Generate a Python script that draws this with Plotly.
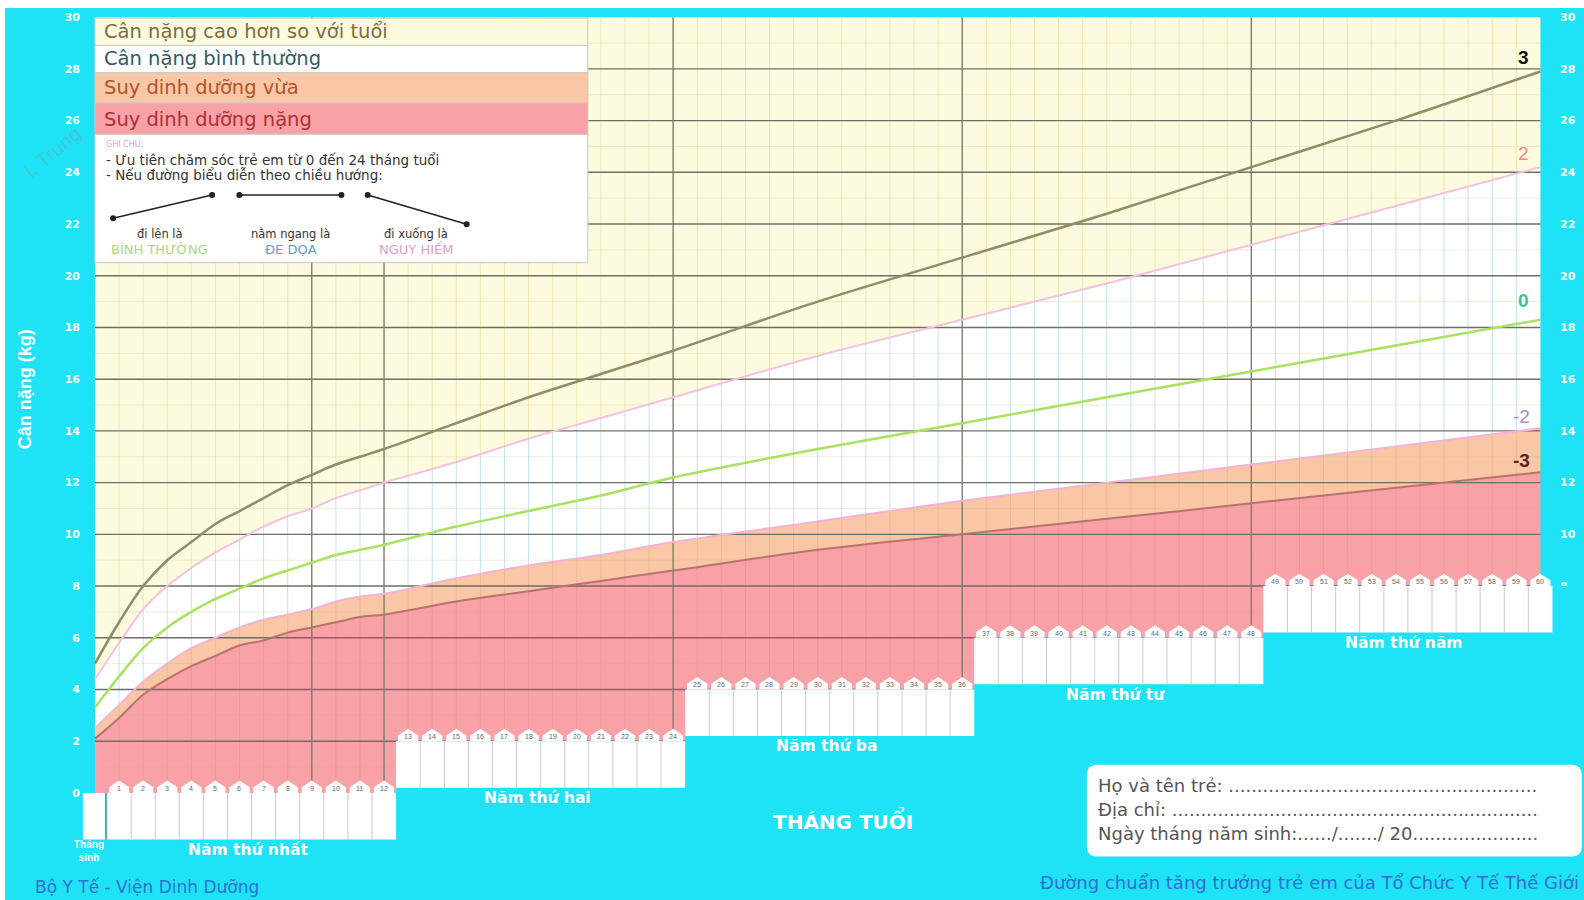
import numpy as np
import plotly.graph_objects as go

# ---------------- DATA (WHO weight-for-age, boys) ----------------
months = [0, 1, 2, 3, 4, 5, 6, 7, 8, 9, 10, 11, 12, 15, 18, 21, 24, 30, 36,
          42, 48, 54, 60]
sd_m3 = [2.1, 2.9, 3.8, 4.4, 4.9, 5.3, 5.7, 5.9, 6.2, 6.4, 6.6, 6.8, 6.9, 7.4, 7.8,
         8.2, 8.6, 9.4, 10.0, 10.6, 11.2, 11.8, 12.4]
sd_m2 = [2.5, 3.4, 4.3, 5.0, 5.6, 6.0, 6.4, 6.7, 6.9, 7.1, 7.4, 7.6, 7.7, 8.3, 8.8,
         9.2, 9.7, 10.5, 11.3, 12.0, 12.7, 13.4, 14.1]
sd_0 = [3.3, 4.5, 5.6, 6.4, 7.0, 7.5, 7.9, 8.3, 8.6, 8.9, 9.2, 9.4, 9.6, 10.3, 10.9,
        11.5, 12.2, 13.3, 14.3, 15.3, 16.3, 17.3, 18.3]
sd_p2 = [4.4, 5.8, 7.1, 8.0, 8.7, 9.3, 9.8, 10.3, 10.7, 11.0, 11.4, 11.7, 12.0, 12.8, 13.7,
         14.5, 15.3, 16.9, 18.3, 19.7, 21.2, 22.7, 24.2]
sd_p3 = [5.0, 6.6, 8.0, 9.0, 9.7, 10.4, 10.9, 11.4, 11.9, 12.3, 12.7, 13.0, 13.3, 14.3, 15.3,
         16.2, 17.1, 19.0, 20.7, 22.4, 24.2, 26.0, 27.9]

y_ticks = list(range(0, 31, 2))
z_labels = ["3", "2", "0", "-2", "-3"]
year_labels = ["Năm thứ nhất", "Năm thứ hai", "Năm thứ ba", "Năm thứ tư", "Năm thứ năm"]
tab_labels = [str(m) for m in range(1, 61)]
legend_texts = ["Cân nặng cao hơn so với tuổi", "Cân nặng bình thường",
                "Suy dinh dưỡng vừa", "Suy dinh dưỡng nặng"]
note_lines = ["- Ưu tiên chăm sóc trẻ em từ 0 đến 24 tháng tuổi",
              "- Nếu đường biểu diễn theo chiều hướng:"]
trend_texts = [("đi lên là", "BÌNH THƯỜNG"), ("nằm ngang là", "ĐE DỌA"), ("đi xuống là", "NGUY HIỂM")]
info_lines = ["Họ và tên trẻ: " + "." * 54,
              "Địa chỉ: " + "." * 64,
              "Ngày tháng năm sinh:....../......./ 20......................"]

# ---------------- GEOMETRY / STYLE ----------------
W, H = 1584, 900
ML, MT = 5, 8
S = 0.99                  # reference-measure scale
SX, X0 = 23.85, 94.0      # px per month, px of month 0 (reference measure)
SY, Y0 = 25.6, 785.0      # px per kg, px of 0 kg (reference measure)


def mx(px):
    return (px - X0) / SX


def ky(py):
    return (Y0 - py) / SY


xr = [mx(S * ML), mx(S * W)]
yr = [ky(S * H), ky(S * MT)]

CYAN = "#1ee3f6"
YELLOW = "#fdfbdf"
PEACH = "#f9c7a6"
RED = "#f8a1a6"
FONT = "Liberation Sans"
WIDE = "DejaVu Sans"

fig = go.Figure()
sp = dict(shape="spline", smoothing=1.0)
nohov = dict(hoverinfo="skip", showlegend=False)

# ---- region fills ----
fig.add_trace(go.Scatter(x=[0, 60], y=[0, 0], mode="lines", line=dict(width=0), **nohov))
fig.add_trace(go.Scatter(x=months, y=sd_m3, mode="lines", line=dict(width=0, **sp),
                         fill="tonexty", fillcolor=RED, **nohov))
fig.add_trace(go.Scatter(x=months, y=sd_m2, mode="lines", line=dict(width=0, **sp),
                         fill="tonexty", fillcolor=PEACH, **nohov))
fig.add_trace(go.Scatter(x=months, y=sd_p2, mode="lines", line=dict(width=0, **sp),
                         fill="tonexty", fillcolor="#ffffff", **nohov))
fig.add_trace(go.Scatter(x=[0, 60], y=[30, 30], mode="lines", line=dict(width=0),
                         fill="tonexty", fillcolor=YELLOW, **nohov))

# ---- grid (as traces, above fills, below curves) ----
major_v = [9, 12, 24, 36, 48]
segs = {"y": ([], []), "w": ([], []), "p": ([], []), "r": ([], [])}
for m in range(1, 60):
    if m in major_v:
        continue
    a3 = float(np.interp(m, months, sd_m3))
    a2 = float(np.interp(m, months, sd_m2))
    b2 = float(np.interp(m, months, sd_p2))
    for key, lo, hi in (("r", 0, a3), ("p", a3, a2), ("w", a2, b2), ("y", b2, 30)):
        segs[key][0].extend([m, m, None])
        segs[key][1].extend([lo, hi, None])
seg_col = {"y": "#eee8ad", "w": "#c4e2f4", "p": "#efb796", "r": "#ee959b"}
for key, (xs, ys) in segs.items():
    fig.add_trace(go.Scatter(x=xs, y=ys, mode="lines", line=dict(color=seg_col[key], width=1), **nohov))

hx, hy = [], []
for k in range(1, 30, 2):
    hx += [0, 60, None]
    hy += [k, k, None]
fig.add_trace(go.Scatter(x=hx, y=hy, mode="lines", line=dict(color="rgba(200,188,110,0.25)", width=1), **nohov))

hx, hy = [], []
for k in range(2, 30, 2):
    hx += [0, 60, None]
    hy += [k, k, None]
fig.add_trace(go.Scatter(x=hx, y=hy, mode="lines", line=dict(color="#6e6e66", width=1.4), **nohov))

vx, vy = [], []
for m in major_v:
    vx += [m, m, None]
    vy += [0, 30, None]
fig.add_trace(go.Scatter(x=vx, y=vy, mode="lines", line=dict(color="#7a7f6e", width=1.4), **nohov))

# ---- z-score curves ----
curve_defs = [(sd_m3, "#b8736c", 2), (sd_m2, "#f3b3d3", 2), (sd_0, "#a8e25e", 2.5),
              (sd_p2, "#f6c0de", 2), (sd_p3, "#8e8d68", 2.5)]
for ys, col, wdt in curve_defs:
    fig.add_trace(go.Scatter(x=months, y=ys, mode="lines", line=dict(color=col, width=wdt, **sp), **nohov))

# dummy trace for right axis
fig.add_trace(go.Scatter(x=[None], y=[None], yaxis="y2", **nohov))

shapes = []
ann = []

# ---- stepped cyan covers + month boxes ----
for k in range(2, 6):
    L = 2 * (k - 1)
    xa, xb = 12 * (k - 1) + 0.5, 12 * k + 0.5
    shapes.append(dict(type="rect", xref="x", yref="y", x0=xa, x1=(xr[1] + 1) if k == 5 else xb + 0.3,
                       y0=yr[0] - 1, y1=L, fillcolor=CYAN, line=dict(width=0), layer="above"))
for k in range(1, 6):
    L = 2 * (k - 1)
    xa, xb = 12 * (k - 1) + 0.5, 12 * k + 0.5
    shapes.append(dict(type="rect", xref="x", yref="y", x0=xa, x1=xb, y0=L - 1.8, y1=L,
                       fillcolor="#ffffff", line=dict(width=0), layer="above"))
    for j in range(1, 12):
        xs = xa + j
        shapes.append(dict(type="line", xref="x", yref="y", x0=xs, x1=xs, y0=L - 1.8, y1=L,
                           line=dict(color="#cccccc", width=1), layer="above"))
    for j in range(12):
        m = 12 * (k - 1) + 1 + j
        w, h1, h2 = 0.42, 0.22, 0.48
        shapes.append(dict(type="path", xref="x", yref="y",
                           path=f"M {m-w},{L} L {m-w},{L+h1} L {m},{L+h2} L {m+w},{L+h1} L {m+w},{L} Z",
                           fillcolor="#ffffff", line=dict(width=0), layer="above"))
        ann.append(dict(x=m, y=L + 0.18, xref="x", yref="y", text=tab_labels[m - 1], showarrow=False,
                        font=dict(family=FONT, size=7, color="#666666")))
    ann.append(dict(x=(xa + xb) / 2 - 0.15, y=L - 2.2, xref="x", yref="y", text=year_labels[k - 1],
                    showarrow=False, font=dict(family=WIDE, size=15.5, color="#ffffff", weight="bold")))
# birth month box
shapes.append(dict(type="rect", xref="x", yref="y", x0=-0.5, x1=0.45, y0=-1.8, y1=0,
                   fillcolor="#ffffff", line=dict(width=0), layer="above"))
shapes.append(dict(type="line", xref="x", yref="y", x0=0.45, x1=0.45, y0=-1.8, y1=0,
                   line=dict(color="#777777", width=1.2), layer="above"))
ann.append(dict(x=mx(88), y=ky(842), xref="x", yref="y", text="Tháng<br>sinh", showarrow=False,
                font=dict(family=FONT, size=10, color="#ffffff", weight="bold")))

# ---- legend panel (top-left) ----
lx1 = mx(582)
rows = [(ky(18), ky(45), YELLOW), (ky(45), ky(72), "#ffffff"), (ky(72), ky(102), PEACH),
        (ky(102), ky(133), RED), (ky(133), ky(260), "#ffffff")]
for y1, y0, col in rows:
    shapes.append(dict(type="rect", xref="x", yref="y", x0=0, x1=lx1, y0=y0, y1=y1,
                       fillcolor=col, line=dict(color="#c9c9c0", width=1), layer="above"))
leg_cols = ["#7d6b3e", "#2f5a66", "#b3532c", "#ae3036"]
leg_y = [31, 58, 87, 118]
for t, c, py in zip(legend_texts, leg_cols, leg_y):
    ann.append(dict(x=mx(101), y=ky(py), xref="x", yref="y", text=t, showarrow=False, xanchor="left",
                    font=dict(family=WIDE, size=19.5, color=c)))
ann.append(dict(x=mx(103), y=ky(142), xref="x", yref="y", text="GHI CHÚ:", showarrow=False, xanchor="left",
                font=dict(family=WIDE, size=8, color="#e3a3c6")))
for t, py in zip(note_lines, [158, 173]):
    ann.append(dict(x=mx(103), y=ky(py), xref="x", yref="y", text=t, showarrow=False, xanchor="left",
                    font=dict(family=WIDE, size=13.5, color="#333333")))
arrows = [((112, 216), (210, 193)), ((237, 193), (338, 193)), ((364, 193), (462, 222))]
for (p0, p1) in arrows:
    shapes.append(dict(type="line", xref="x", yref="y", x0=mx(p0[0]), y0=ky(p0[1]), x1=mx(p1[0]), y1=ky(p1[1]),
                       line=dict(color="#222222", width=1.5), layer="above"))
    for (px, py) in (p0, p1):
        shapes.append(dict(type="circle", xref="x", yref="y", x0=mx(px - 3), x1=mx(px + 3),
                           y0=ky(py + 3), y1=ky(py - 3), fillcolor="#222222", line=dict(width=0), layer="above"))
trend_cols = ["#a9d97c", "#5b9fd0", "#d7a0c8"]
for (t1, t2), c, px in zip(trend_texts, trend_cols, [158, 288, 412]):
    ann.append(dict(x=mx(px), y=ky(232), xref="x", yref="y", text=t1, showarrow=False,
                    font=dict(family=WIDE, size=11.5, color="#333333")))
    ann.append(dict(x=mx(px), y=ky(247), xref="x", yref="y", text=t2, showarrow=False,
                    font=dict(family=WIDE, size=13, color=c)))

# ---- info box (bottom-right) ----
bx0, bx1, by0, by1 = mx(1076), mx(1566), ky(848), ky(757)
rx, ry = 10 / SX, 10 / SY
shapes.append(dict(type="path", xref="x", yref="y",
                   path=(f"M {bx0+rx},{by1} L {bx1-rx},{by1} Q {bx1},{by1} {bx1},{by1-ry} "
                         f"L {bx1},{by0+ry} Q {bx1},{by0} {bx1-rx},{by0} L {bx0+rx},{by0} "
                         f"Q {bx0},{by0} {bx0},{by0+ry} L {bx0},{by1-ry} Q {bx0},{by1} {bx0+rx},{by1} Z"),
                   fillcolor="#ffffff", line=dict(width=0), layer="above"))
for t, py in zip(info_lines, [778, 801, 825]):
    ann.append(dict(x=mx(1085), y=ky(py), xref="x", yref="y", text=t, showarrow=False, xanchor="left",
                    font=dict(family=WIDE, size=18, color="#555555")))

# ---- z-score labels ----
z_pos = [(1508, 57, "#111111", True), (1508, 152, "#f08888", False), (1508, 297, "#3fbf9f", True),
         (1506, 412, "#9f90c8", False), (1506, 456, "#5a2212", True)]
for t, (px, py, c, b) in zip(z_labels, z_pos):
    ann.append(dict(x=mx(px), y=ky(py), xref="x", yref="y", text=t, showarrow=False,
                    font=dict(family=FONT, size=19, color=c, weight="bold" if b else "normal")))

# ---- other texts ----
ann.append(dict(x=mx(835), y=ky(812), xref="x", yref="y", text="THÁNG TUỔI", showarrow=False,
                font=dict(family=WIDE, size=20, color="#ffffff", weight="bold")))
ann.append(dict(x=mx(25), y=ky(385), xref="x", yref="y", text="Cân nặng (kg)", showarrow=False, textangle=-90,
                font=dict(family=FONT, size=18, color="#ffffff", weight="bold")))
ann.append(dict(x=mx(33), y=ky(878), xref="x", yref="y", text="Bộ Y Tế - Viện Dinh Dưỡng", showarrow=False,
                xanchor="left", font=dict(family=WIDE, size=17, color="#2f6fd0")))
ann.append(dict(x=mx(1565), y=ky(874), xref="x", yref="y", xanchor="right",
                text="Đường chuẩn tăng trưởng trẻ em của Tổ Chức Y Tế Thế Giới", showarrow=False,
                font=dict(family=WIDE, size=18, color="#2f6fd0")))
ann.append(dict(x=mx(52), y=ky(150), xref="x", yref="y", text="l. Trung", showarrow=False, textangle=-40,
                font=dict(family=FONT, size=20, color="rgba(140,150,150,0.35)")))

axis_font = dict(family=WIDE, size=11, color="#ffffff", weight="bold")
fig.update_layout(
    width=W, height=H,
    margin=dict(l=ML, r=0, t=MT, b=0),
    paper_bgcolor="#ffffff",
    plot_bgcolor=CYAN,
    showlegend=False,
    hovermode=False,
    xaxis=dict(range=xr, visible=False, fixedrange=True),
    yaxis=dict(range=yr, anchor="free", position=(80 - ML) / (W - ML), side="left",
               tickvals=y_ticks, tickfont=axis_font, showgrid=False, zeroline=False,
               showline=False, ticks="", automargin=False, fixedrange=True),
    yaxis2=dict(range=yr, overlaying="y", anchor="free", position=(1559 - ML) / (W - ML), side="right",
                tickvals=y_ticks, tickfont=axis_font, showgrid=False, zeroline=False,
                showline=False, ticks="", automargin=False, fixedrange=True),
    shapes=shapes,
    annotations=ann,
)

fig.write_html("out.html", config={"displayModeBar": False},
               post_script="document.body.style.margin='0px';document.body.style.overflow='hidden';")
